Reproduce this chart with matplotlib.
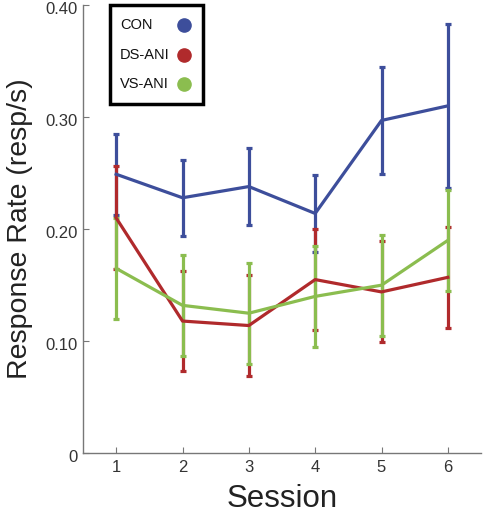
import matplotlib.pyplot as plt
from matplotlib.patches import Rectangle
from matplotlib.transforms import ScaledTranslation

plt.rcParams['font.family'] = ['Liberation Sans', 'DejaVu Sans']

sessions = [1, 2, 3, 4, 5, 6]
groups = ['CON', 'DS-ANI', 'VS-ANI']
colors = ['#3d4e9b', '#b02a2c', '#8bbd4f']

con_mean = [0.249, 0.228, 0.238, 0.214, 0.297, 0.310]
con_err = [0.036, 0.034, 0.034, 0.034, 0.048, 0.073]
ds_mean = [0.210, 0.118, 0.114, 0.155, 0.144, 0.157]
ds_err = [0.046, 0.045, 0.045, 0.045, 0.045, 0.045]
vs_mean = [0.165, 0.132, 0.125, 0.140, 0.150, 0.190]
vs_err = [0.045, 0.045, 0.045, 0.045, 0.045, 0.045]

means = [con_mean, ds_mean, vs_mean]
errs = [con_err, ds_err, vs_err]

W, H = 484, 513
fig = plt.figure(figsize=(W / 100, H / 100), dpi=100)
ax = fig.add_axes([83 / W, (H - 453.3) / H, 398 / W, 448.3 / H])

for m, e, c in zip(means, errs, colors):
    ax.errorbar(sessions, m, yerr=e, color=c, linewidth=2.3, elinewidth=2.3,
                capsize=2.5, capthick=2.3)

ax.set_xlim(0.5, 6.5)
ax.set_ylim(0, 0.40)
ax.set_xticks(sessions)
ax.set_yticks([0, 0.10, 0.20, 0.30, 0.40])
ax.set_yticklabels(['0', '0.10', '0.20', '0.30', '0.40'])

for s in ['top', 'right']:
    ax.spines[s].set_visible(False)
for s in ['left', 'bottom']:
    ax.spines[s].set_color('#777777')
    ax.spines[s].set_linewidth(1)

ax.tick_params(direction='in', length=4, color='#777777', labelsize=12,
               labelcolor='#333333')
ax.tick_params(axis='x', pad=5)
ax.tick_params(axis='y', pad=4)

# tick labels sit a little below their ticks in the original
shift = ScaledTranslation(0, -3 / 100, fig.dpi_scale_trans)
for lab in ax.get_yticklabels():
    lab.set_transform(lab.get_transform() + shift)

ax.set_xlabel('Session', fontsize=22.5, color='#222222', labelpad=6)
ax.set_ylabel('Response Rate (resp/s)', fontsize=20.5, color='#222222', labelpad=9)

# legend box drawn by hand: text left, dot right
fx = lambda px: px / W
fy = lambda py: 1 - py / H
fig.patches.append(Rectangle((fx(110), fy(104)), fx(203) - fx(110), fy(5) - fy(104),
                             transform=fig.transFigure, fill=False,
                             edgecolor='black', linewidth=2.5))
for g, c, y in zip(groups, colors, [25, 55, 84]):
    fig.text(fx(120), fy(y), g, fontsize=10.5, color='#111111',
             ha='left', va='center')
    fig.add_artist(plt.Line2D([fx(184)], [fy(y)], marker='o', markersize=9.5,
                              color=c, linestyle='none',
                              transform=fig.transFigure))

fig.savefig('out.png', dpi=100)
